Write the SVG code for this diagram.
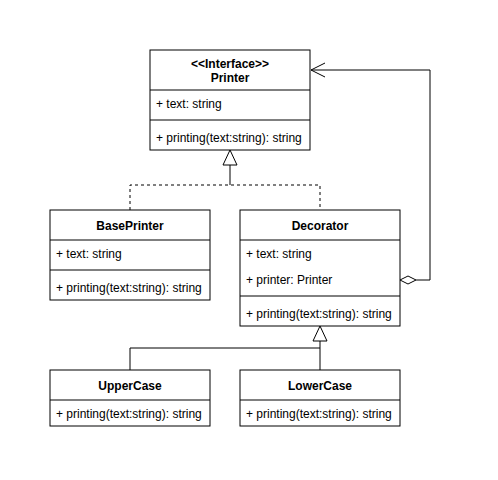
<svg xmlns="http://www.w3.org/2000/svg" width="498" height="480" viewBox="0 0 498 480">
<style>
.box{fill:#fff;stroke:#000;stroke-width:1}
.ln{fill:none;stroke:#000;stroke-width:1}
.t{font-family:"Liberation Sans",Arial,sans-serif;font-size:12px;fill:#000}
.h{font-weight:bold;text-anchor:middle}
.c{fill:none;stroke:#000;stroke-width:1}
.d{stroke-dasharray:3 3}
</style>
<rect width="498" height="480" fill="#fff"/>
<g id="connectors">
<path class="c d" d="M130,210 V185 H320 V210"/>
<path class="c" d="M230,185 V165"/>
<path d="M230,150 L223,165 L237,165 Z" fill="#fff" stroke="#000"/>
<path class="c" d="M130,370 V348 H320 V370"/>
<path class="c" d="M320,348 V341"/>
<path d="M320,326 L313,341 L327,341 Z" fill="#fff" stroke="#000"/>
<path class="c" d="M416,280 H430 V70 H311"/>
<path class="c" d="M325,63 L311,70 L325,77"/>
<path d="M400,280 L408,276 L416,280 L408,284 Z" fill="#fff" stroke="#000"/>
</g>
<g id="Printer">
<rect class="box" x="150" y="50" width="160" height="100"/>
<line class="ln" x1="150" y1="90" x2="310" y2="90"/>
<line class="ln" x1="150" y1="120" x2="310" y2="120"/>
<text class="t h" x="230" y="68">&lt;&lt;Interface&gt;&gt;</text>
<text class="t h" x="230" y="82">Printer</text>
<text class="t" x="156" y="108">+ text: string</text>
<text class="t" x="156" y="142">+ printing(text:string): string</text>
</g>
<g id="BasePrinter">
<rect class="box" x="50" y="210" width="160" height="90"/>
<line class="ln" x1="50" y1="240" x2="210" y2="240"/>
<line class="ln" x1="50" y1="270" x2="210" y2="270"/>
<text class="t h" x="130" y="230">BasePrinter</text>
<text class="t" x="56" y="258">+ text: string</text>
<text class="t" x="56" y="292">+ printing(text:string): string</text>
</g>
<g id="Decorator">
<rect class="box" x="240" y="210" width="160" height="116"/>
<line class="ln" x1="240" y1="240" x2="400" y2="240"/>
<line class="ln" x1="240" y1="296" x2="400" y2="296"/>
<text class="t h" x="320" y="230">Decorator</text>
<text class="t" x="246" y="258">+ text: string</text>
<text class="t" x="246" y="284">+ printer: Printer</text>
<text class="t" x="246" y="318">+ printing(text:string): string</text>
</g>
<g id="UpperCase">
<rect class="box" x="50" y="370" width="160" height="56"/>
<line class="ln" x1="50" y1="400" x2="210" y2="400"/>
<text class="t h" x="130" y="390">UpperCase</text>
<text class="t" x="56" y="418">+ printing(text:string): string</text>
</g>
<g id="LowerCase">
<rect class="box" x="240" y="370" width="160" height="56"/>
<line class="ln" x1="240" y1="400" x2="400" y2="400"/>
<text class="t h" x="320" y="390">LowerCase</text>
<text class="t" x="246" y="418">+ printing(text:string): string</text>
</g>
</svg>
